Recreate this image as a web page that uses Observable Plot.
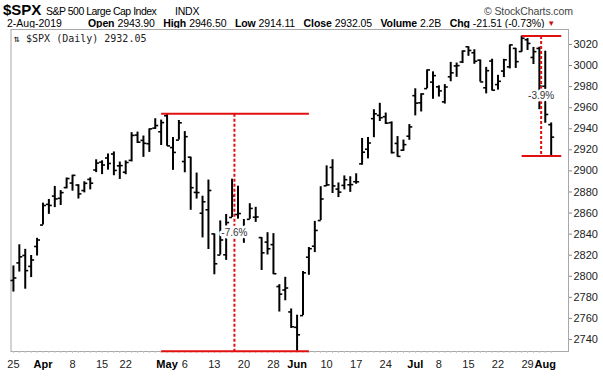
<!DOCTYPE html>
<html><head><meta charset="utf-8">
<script src="https://cdn.jsdelivr.net/npm/d3@7"></script>
<script src="https://cdn.jsdelivr.net/npm/@observablehq/plot@0.6"></script>
<style>
body{margin:0;background:#fff;}
#wrap{position:relative;width:603px;height:378px;overflow:hidden;font-family:"Liberation Sans",Arial,sans-serif;color:#000;}
.t{position:absolute;white-space:nowrap;line-height:1;}
#quote{position:absolute;left:88px;top:18px;white-space:nowrap;line-height:1;font-size:10.5px;}
#quote b{margin-right:3px;letter-spacing:-0.1px;}
#quote span.v{margin-right:8.5px;letter-spacing:-0.1px;}
#chart{position:absolute;left:0;top:28px;}
</style></head><body>
<div id="wrap"><div id="hdr"></div><div id="quote"></div><div id="chart"></div></div>
<script>
// ---- data ----
const dates = ["2019-03-25","2019-03-26","2019-03-27","2019-03-28","2019-03-29",
"2019-04-01","2019-04-02","2019-04-03","2019-04-04","2019-04-05","2019-04-08","2019-04-09","2019-04-10","2019-04-11","2019-04-12",
"2019-04-15","2019-04-16","2019-04-17","2019-04-18","2019-04-22","2019-04-23","2019-04-24","2019-04-25","2019-04-26","2019-04-29","2019-04-30",
"2019-05-01","2019-05-02","2019-05-03","2019-05-06","2019-05-07","2019-05-08","2019-05-09","2019-05-10","2019-05-13","2019-05-14","2019-05-15","2019-05-16","2019-05-17",
"2019-05-20","2019-05-21","2019-05-22","2019-05-23","2019-05-24","2019-05-28","2019-05-29","2019-05-30","2019-05-31",
"2019-06-03","2019-06-04","2019-06-05","2019-06-06","2019-06-07","2019-06-10","2019-06-11","2019-06-12","2019-06-13","2019-06-14",
"2019-06-17","2019-06-18","2019-06-19","2019-06-20","2019-06-21","2019-06-24","2019-06-25","2019-06-26","2019-06-27","2019-06-28",
"2019-07-01","2019-07-02","2019-07-03","2019-07-05","2019-07-08","2019-07-09","2019-07-10","2019-07-11","2019-07-12",
"2019-07-15","2019-07-16","2019-07-17","2019-07-18","2019-07-19","2019-07-22","2019-07-23","2019-07-24","2019-07-25","2019-07-26",
"2019-07-29","2019-07-30","2019-07-31","2019-08-01","2019-08-02"];
const opens = [2796.01,2812.66,2819.72,2809.40,2828.27,
2848.63,2868.24,2876.09,2873.99,2884.16,2888.46,2886.58,2881.37,2891.92,2900.86,
2908.32,2912.26,2916.04,2904.81,2898.78,2909.99,2934.00,2928.99,2925.81,2940.58,2937.14,
2952.33,2922.16,2929.21,2908.89,2913.03,2879.61,2859.84,2863.10,2840.19,2820.12,2820.38,2855.80,2858.60,
2841.94,2854.02,2856.06,2836.70,2832.41,2830.03,2790.25,2786.94,2766.15,
2751.53,2762.64,2818.09,2828.51,2852.87,2885.83,2903.27,2882.73,2886.24,2886.82,
2889.75,2906.71,2920.55,2949.60,2952.71,2951.42,2945.78,2926.07,2919.66,2932.94,
2971.41,2964.66,2978.08,2984.25,2979.77,2965.52,2989.30,2999.62,3003.36,
3017.80,3012.13,3005.10,2978.87,3004.26,2981.93,2994.74,2998.77,3016.26,3013.25,
3024.47,3007.66,3016.22,2980.32,2943.90];
const highs = [2809.79,2829.87,2825.56,2819.71,2836.03,
2869.40,2872.90,2885.25,2881.28,2893.24,2895.95,2886.88,2889.71,2893.42,2910.54,
2909.60,2916.06,2918.00,2908.40,2909.51,2936.31,2936.83,2933.10,2939.88,2949.52,2948.22,
2954.13,2931.68,2947.85,2937.32,2913.03,2897.96,2875.97,2891.31,2840.19,2852.54,2858.68,2892.15,2885.48,
2853.86,2868.88,2865.47,2836.70,2841.36,2840.51,2792.03,2799.00,2768.98,
2763.07,2804.49,2827.28,2852.10,2884.97,2904.77,2910.61,2888.57,2895.24,2894.45,
2897.27,2930.79,2931.74,2958.06,2964.15,2954.92,2946.52,2932.59,2929.30,2943.98,
2977.93,2973.21,2995.84,2994.03,2980.76,2981.90,3002.98,3002.33,3013.92,
3017.80,3015.02,3005.26,2998.28,3006.02,2990.71,3005.90,3019.59,3016.31,3027.98,
3025.61,3017.19,3017.40,3013.59,2945.50];
const lows = [2785.02,2803.99,2787.72,2798.77,2819.23,
2848.63,2858.75,2865.17,2867.14,2882.99,2880.78,2873.33,2879.13,2881.99,2898.37,
2896.48,2900.71,2895.45,2891.90,2896.35,2908.53,2926.05,2912.84,2917.56,2939.35,2924.11,
2923.36,2900.50,2929.21,2898.21,2862.60,2873.28,2836.40,2825.39,2801.43,2820.12,2815.08,2855.80,2854.23,
2831.29,2854.02,2851.11,2805.49,2820.19,2801.58,2766.06,2776.74,2750.52,
2728.81,2762.64,2800.92,2822.45,2852.87,2885.51,2878.53,2874.68,2881.99,2879.62,
2887.30,2905.44,2911.43,2931.50,2946.87,2944.05,2916.01,2912.99,2918.57,2929.05,
2952.22,2955.92,2977.96,2967.97,2970.09,2963.44,2984.62,2988.80,3001.87,
3008.77,3001.15,2984.25,2973.09,2975.86,2976.65,2988.56,2996.82,2997.24,3012.59,
3014.30,3000.94,2958.08,2945.23,2914.11];
const closes = [2798.36,2818.46,2805.37,2815.44,2834.40,
2867.19,2867.24,2873.40,2879.39,2892.74,2895.77,2878.20,2888.21,2888.32,2907.41,
2905.58,2907.06,2900.45,2905.03,2907.97,2933.68,2927.25,2926.17,2939.88,2943.03,2945.83,
2923.73,2917.52,2945.64,2932.47,2884.05,2879.42,2870.72,2881.40,2811.87,2834.41,2850.96,2876.32,2859.53,
2840.23,2864.36,2856.27,2822.24,2826.06,2802.39,2783.02,2788.86,2752.06,
2744.45,2803.27,2826.15,2843.49,2873.34,2886.73,2885.72,2879.84,2891.64,2886.98,
2889.67,2917.75,2926.46,2954.18,2950.46,2945.35,2917.38,2913.78,2924.92,2941.76,
2964.33,2973.01,2995.82,2990.41,2975.95,2979.63,2993.07,2999.91,3013.77,
3014.30,3004.04,2984.42,2995.11,2976.61,2985.03,3005.47,3019.56,3003.67,3025.86,
3020.97,3013.18,2980.38,2953.56,2932.05];

const tickDates = ["2019-03-25","2019-04-01","2019-04-08","2019-04-15","2019-04-22","2019-05-01","2019-05-06","2019-05-13","2019-05-20","2019-05-28",
"2019-06-03","2019-06-10","2019-06-17","2019-06-24","2019-07-01","2019-07-08","2019-07-15","2019-07-22","2019-07-29","2019-08-01"];
const tickLabels = ["25","Apr","8","15","22","May","6","13","20","28","Jun","10","17","24","Jul","8","15","22","29","Aug"];
const tickIsMonth = [false,true,false,false,false,true,false,false,false,false,true,false,false,false,true,false,false,false,false,true];
const yTicks = [2740,2760,2780,2800,2820,2840,2860,2880,2900,2920,2940,2960,2980,3000,3020];

// drawdown annotations (positions in trading days from first bar)
const annoFrom = [25, 86];
const annoTo = [50, 92.7];
const annoAt = [37.4, 89.3];
const annoHigh = [2954.13, 3027.98];
const annoLow = [2728.81, 2914.11];
const annoLabel = ["-7.6%", "-3.9%"];

const symbolTitle = "$SPX";
const indexName = "S&P 500 Large Cap Index";
const exchange = "INDX";
const credit = "\u00A9 StockCharts.com";
const lastDate = "2-Aug-2019";
const quoteKeys = ["Open","High","Low","Close","Volume","Chg"];
const quoteVals = ["2943.90","2946.50","2914.11","2932.05","2.2B","-21.51 (-0.73%)"];
const innerLabel = "\u21C5 $SPX (Daily) 2932.05";

// ---- header ----
const hdr = document.getElementById("hdr");
function put(txt, x, top, size, weight, color, extra) {
  const s = document.createElement("div");
  s.className = "t";
  s.textContent = txt;
  s.style.left = x + "px"; s.style.top = top + "px";
  s.style.fontSize = size + "px"; s.style.fontWeight = weight || "normal";
  s.style.color = color || "#000";
  if (extra) Object.assign(s.style, extra);
  hdr.appendChild(s);
  return s;
}
put(symbolTitle, 3, 1.5, 15, "bold");
put(indexName, 46, 5.5, 10.5, "normal", "#000", {letterSpacing: "-0.5px"});
put(exchange, 175, 5.5, 10.5, "normal", "#000", {letterSpacing: "-0.2px"});
put(credit, 484, 5.5, 10.5, "normal", "#444", {letterSpacing: "-0.1px"});
put(lastDate, 7, 18, 10.5, "normal", "#000");
const quote = document.getElementById("quote");
quoteKeys.forEach((k, i) => {
  const b = document.createElement("b"); b.textContent = k; quote.appendChild(b);
  const v = document.createElement("span"); v.className = "v"; v.textContent = quoteVals[i];
  if (i === quoteKeys.length - 1) v.style.marginRight = "3px";
  quote.appendChild(v);
});
const tri = document.createElement("span"); tri.textContent = "\u25BC";
tri.style.color = "#cc1111"; tri.style.fontSize = "8px"; tri.style.verticalAlign = "1px";
quote.appendChild(tri);

// ---- chart ----
const data = dates.map((d, i) => ({date: d, i, open: opens[i], high: highs[i], low: lows[i], close: closes[i]}));
const idxOf = new Map(dates.map((d, i) => [d, i]));
const ticks = tickDates.map((d, k) => ({i: idxOf.get(d), label: tickLabels[k], month: tickIsMonth[k]}));
const labelOf = new Map(ticks.map(t => [t.i, t.label]));
const anno = annoLabel.map((l, k) => ({from: annoFrom[k], to: annoTo[k], at: annoAt[k], hi: annoHigh[k], lo: annoLow[k], label: l}));
const red = "#e01010";

const chart = Plot.plot({
  width: 603, height: 350,
  marginLeft: 10.5, marginRight: 35, marginTop: 1, marginBottom: 27,
  x: {type: "linear", domain: [-0.41, 93.93], axis: null},
  y: {domain: [2728.6, 3034.2], axis: null},
  style: {fontFamily: "Liberation Sans, Arial, sans-serif", background: "white", overflow: "visible"},
  marks: [
    Plot.frame({stroke: "#a8a8a8"}),
    Plot.axisX(d3.range(dates.length), {anchor: "bottom", tickSize: 2, tickFormat: () => "", stroke: "#c4c4c4"}),
    Plot.axisX(ticks.filter(t => !t.month).map(t => t.i), {anchor: "bottom", tickSize: 0, tickPadding: 9, tickFormat: d => labelOf.get(d), fontSize: 11, fill: "#222"}),
    Plot.axisX(ticks.filter(t => t.month).map(t => t.i), {anchor: "bottom", tickSize: 0, tickPadding: 9, tickFormat: d => labelOf.get(d), fontSize: 11, fontWeight: "bold", fill: "#000"}),
    Plot.axisY(yTicks, {anchor: "right", tickSize: 3, tickPadding: 2, tickFormat: d => String(d), fontSize: 11, fill: "#222", stroke: "#888"}),
    Plot.text([innerLabel], {frameAnchor: "top-left", dx: 3, dy: 5, lineAnchor: "top", textAnchor: "start", fontFamily: "DejaVu Sans Mono, monospace", fontSize: 10, fill: "#222"}),
    Plot.ruleX(data, {x: "i", y1: "low", y2: "high", stroke: "#000", strokeWidth: 2}),
    Plot.link(data, {x1: d => d.i - 0.5, x2: "i", y1: "open", y2: "open", stroke: "#000", strokeWidth: 1.6}),
    Plot.link(data, {x1: "i", x2: d => d.i + 0.5, y1: "close", y2: "close", stroke: "#000", strokeWidth: 1.6}),
    Plot.link(anno, {x1: "from", x2: "to", y1: "hi", y2: "hi", stroke: red, strokeWidth: 2}),
    Plot.link(anno, {x1: "from", x2: "to", y1: "lo", y2: "lo", stroke: red, strokeWidth: 2}),
    Plot.link(anno, {x1: "at", x2: "at", y1: "hi", y2: "lo", stroke: red, strokeWidth: 2, strokeDasharray: "3,2"}),
    Plot.text(anno, {x: "at", y: d => (d.hi + d.lo) / 2, text: "label", fontSize: 10, fill: "#333", stroke: "white", strokeWidth: 5, paintOrder: "stroke"})
  ]
});
document.getElementById("chart").appendChild(chart);
</script>
</body></html>
